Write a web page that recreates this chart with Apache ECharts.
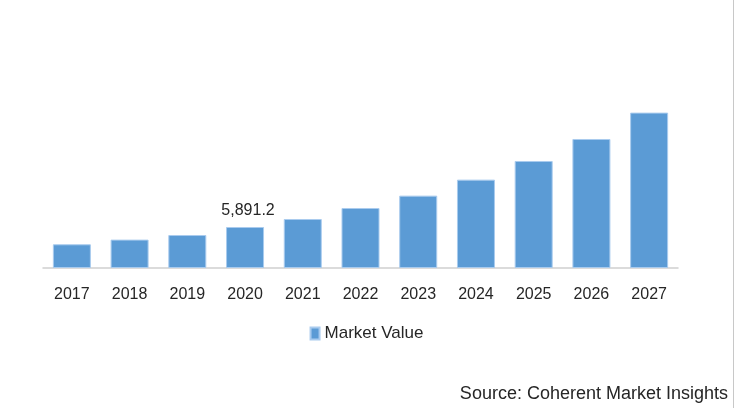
<!DOCTYPE html>
<html>
<head>
<meta charset="utf-8">
<script src="https://cdn.jsdelivr.net/npm/echarts@6/dist/echarts.min.js"></script>
<style>
html,body{margin:0;padding:0;background:#fff;}
#c{width:733px;height:408px;border-right:1px solid #c8c8c8;}
</style>
</head>
<body>
<div id="c"></div>
<script>
const categories = ['2017','2018','2019','2020','2021','2022','2023','2024','2025','2026','2027'];
const marketValue = [3405, 4080, 4740, 5891.2, 7040, 8620, 10400, 12700, 15380, 18540, 22330];
const labelledYear = '2020';
const seriesName = 'Market Value';
const sourceText = 'Source: Coherent Market Insights';

const FONT = 'Liberation Sans';
const chart = echarts.init(document.getElementById('c'), null, {renderer: 'canvas'});
chart.setOption({
  animation: false,
  backgroundColor: '#fff',
  title: {
    text: sourceText,
    right: 5,
    top: 385,
    padding: 0,
    textStyle: {fontFamily: FONT, fontSize: 18, fontWeight: 'normal', color: '#262626'}
  },
  legend: {
    data: [seriesName],
    top: 320,
    left: 'center',
    icon: 'rect',
    itemWidth: 9,
    itemHeight: 12,
    itemGap: 6,
    textStyle: {fontFamily: FONT, fontSize: 17, color: '#262626', padding: [0,0,0,0]}
  },
  grid: {left: 43, right: 55, top: 101, bottom: 140, containLabel: false},
  xAxis: {
    type: 'category',
    data: categories,
    axisLine: {lineStyle: {color: '#d0d0d0', width: 1.5}},
    axisTick: {show: false},
    axisLabel: {fontFamily: FONT, fontSize: 16, color: '#262626', margin: 19}
  },
  yAxis: {
    type: 'value',
    min: 0,
    max: 24000,
    show: false,
    splitLine: {show: false}
  },
  series: [{
    name: seriesName,
    type: 'bar',
    barWidth: 38,
    itemStyle: {color: '#5B9BD5', borderColor: '#a9cbee', borderWidth: 1},
    data: marketValue.map((v, i) => ({
      value: v,
      label: {
        show: categories[i] === labelledYear,
        position: 'top',
        distance: 8,
        offset: [3, 0],
        fontFamily: FONT,
        fontSize: 16,
        color: '#262626',
        formatter: p => p.value.toLocaleString('en-US', {minimumFractionDigits: 1, maximumFractionDigits: 1})
      }
    }))
  }]
});
</script>
</body>
</html>
